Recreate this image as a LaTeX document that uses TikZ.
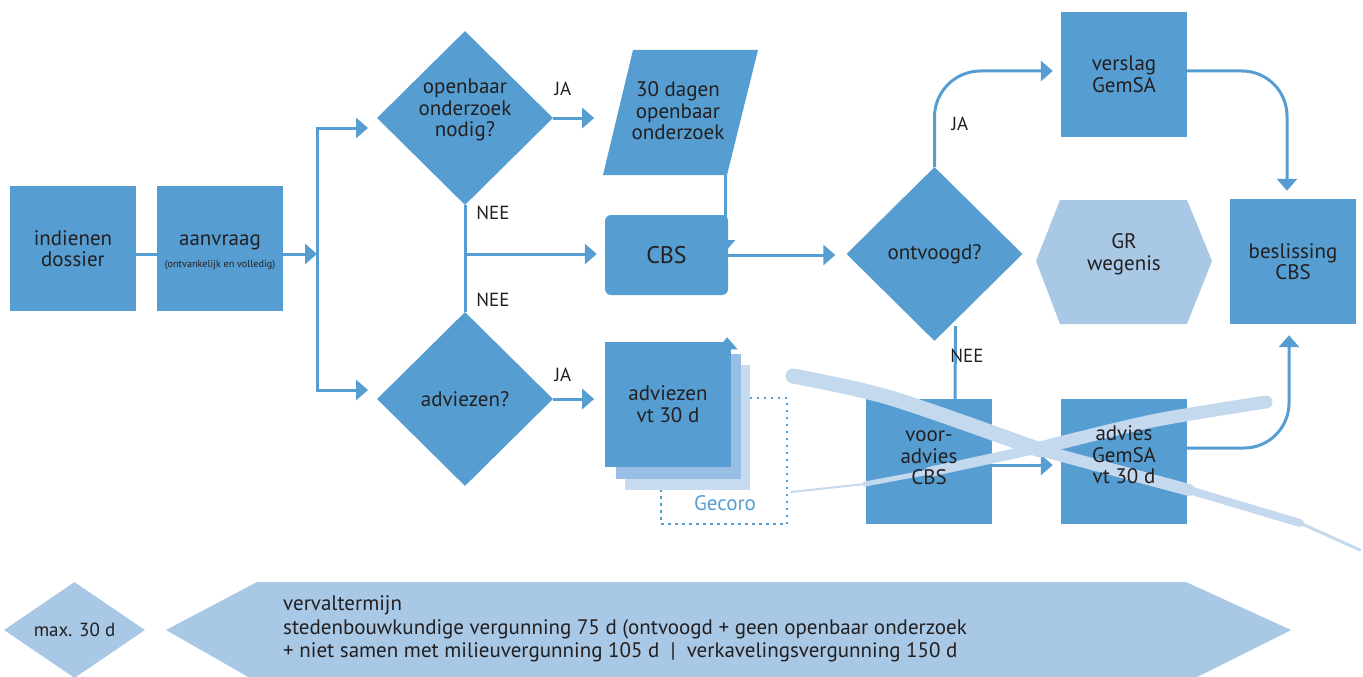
\documentclass[tikz,border=0pt]{standalone}
\usepackage{fontspec}
\setmainfont{PT Sans}
\usetikzlibrary{arrows.meta,shapes.geometric,calc}
\pgfdeclarelayer{bg}
\pgfsetlayers{bg,main}
\definecolor{mblue}{RGB}{86,158,210}
\definecolor{lblue}{RGB}{168,200,230}
\definecolor{sblue}{RGB}{152,190,227}
\definecolor{pblue}{RGB}{198,218,240}
\definecolor{xblue}{RGB}{197,217,238}
\definecolor{txt}{RGB}{35,31,32}
\newcommand\fsm{\fontsize{21}{21.5}\selectfont}
\newcommand\fsl{\fontsize{19}{20}\selectfont}
\newcommand\fst{\fontsize{10.2}{12}\selectfont}
\newcommand\fsc{\fontsize{24}{26}\selectfont}
\newcommand\fsb{\fontsize{21}{23.5}\selectfont}
\begin{document}
\begin{tikzpicture}[x=1pt,y=-1pt,
  box/.style={fill=mblue, minimum width=126pt, minimum height=125pt, inner sep=0pt, align=center, text=txt, font=\fsm},
  dia/.style={diamond, fill=mblue, minimum width=176pt, minimum height=174pt, inner sep=0pt, align=center, text=txt, font=\fsm},
  conn/.style={draw=mblue, line width=3pt, -{Triangle[length=12pt,width=20pt]}},
  plain/.style={draw=mblue, line width=3pt},
  lab/.style={text=txt, font=\fsl, inner sep=0pt, align=center},
  txtn/.style={text=txt, font=\fsm, inner sep=0pt, align=center},
  brush/.style={draw=xblue, line cap=round, line join=round}]
\useasboundingbox (0,0) rectangle (1363,677);

% ---------- left part
\node[box] (ind) at (73,248.5) {indienen\\dossier};
\node[box] (aan) at (220,248.5) {};
\node[txtn] (aant) at (220,242) {aanvraag};
\node[txtn, font=\fst] (aans) at (220,265) {(ontvankelijk en volledig)};

\coordinate (sp) at (317,254);
\coordinate (sp1) at (317,128);
\coordinate (sp2) at (317,390);

\node[dia] (d1) at (465,118) {};
\node[txtn] (d1t) at (465,110) {openbaar\\onderzoek\\nodig?};
\node[dia] (d2) at (465,399) {adviezen?};

% parallelogram
\fill[mblue] (633,50) -- (758,50) -- (727,175) -- (603,175) -- cycle;
\node[txtn] (oo) at (678,111) {30 dagen\\openbaar\\onderzoek};
\coordinate (oob) at (725,175);
\coordinate (oobe) at (725,252);

\node[fill=mblue, rounded corners=6pt, minimum width=123pt, minimum height=80pt, inner sep=0pt, text=txt, font=\fsc] (cbs) at (666.5,255) {CBS};

% adviezen stack
\draw[mblue, line width=2.5pt, dash pattern={on 2.5pt off 4.5pt}] (661,398) rectangle (787,524);
\node[text=mblue, font=\fsm, inner sep=0pt] (gec) at (725,503) {Gecoro};
\fill[pblue] (625,365) rectangle (750,490);
\fill[sblue] (616,354) rectangle (741,479);
\node[box] (adv) at (668,404) {adviezen\\vt 30 d};

% right part
\node[dia] (d3) at (934.5,254) {ontvoogd?};
\node[box] (vg) at (1124,74.5) {verslag\\GemSA};
\node[box] (bes) at (1293,261.5) {beslissing\\CBS};
\fill[lblue] (1060,200) -- (1187,200) -- (1212,261) -- (1187,324) -- (1060,324) -- (1036,261) -- cycle;
\node[txtn] (gr) at (1124,254) {GR\\wegenis};
\node[box] (va) at (928.5,461.5) {};
\node[box] (ag) at (1124,461.5) {};

% ---------- connectors
\draw[plain] ([yshift=-5.5pt]ind.east) -- ([yshift=-5.5pt]aan.west);
\draw[conn] ([yshift=-5.5pt]aan.east) -- (sp);
\draw[conn] (sp) -- (sp1) -- +(51,0);
\draw[conn] (sp) -- (sp2) -- +(51,0);
\draw[conn] (d1.east) -- +(41,0);
\node[lab] (ja1) at (563,89) {JA};
\draw[plain] (d1.south) -- (d2.north);
\coordinate (jn) at (465,254);
\draw[conn, shorten >=8pt] (jn) -- (cbs.west |- jn);
\node[lab] (nee1) at (493,213) {NEE};
\node[lab] (nee2) at (493,300) {NEE};
\draw[conn] (d2.east) -- +(41,0);
\node[lab] (ja2) at (563,375) {JA};
\begin{pgfonlayer}{bg}
\draw[conn] (oob) -- (oobe);
\draw[conn] ([xshift=-4pt,yshift=-20pt]adv.north east) -- ([xshift=-4pt,yshift=4pt]adv.north east);
\end{pgfonlayer}
\draw[conn, shorten >=11pt] (cbs.east) -- (cbs.east -| d3.west);

\draw[conn, rounded corners=46pt, shorten >=8pt] (d3.north) |- ([yshift=3.5pt]vg.west);
\node[lab] (ja3) at (960,124) {JA};
\draw[plain] ([xshift=21pt,yshift=15pt]d3.south) -- ([xshift=26.5pt]va.north);
\node[lab] (nee3) at (967,356) {NEE};
\draw[conn, rounded corners=45pt, shorten >=8pt] ([yshift=3.5pt]vg.east) -| ([xshift=-6pt]bes.north);
\draw[conn, shorten >=8pt] ([yshift=-3.5pt]va.east) -- ([yshift=-3.5pt]ag.west);
\draw[conn, rounded corners=45pt, shorten >=11pt] ([yshift=13.5pt]ag.east) -| ([xshift=-4pt]bes.south);

% ---------- brush strokes (cross)
\draw[brush, line width=15pt] plot[smooth] coordinates {(793,376) (891,398) (1040,450)};
\draw[brush, line width=12pt] plot[smooth] coordinates {(1040,450) (1189,490)};
\draw[brush, line width=8pt] plot[smooth] coordinates {(1189,490) (1300,523)};
\draw[brush, line width=3pt] plot[smooth] coordinates {(1300,523) (1360,550)};
\draw[brush, line width=13pt] plot[smooth] coordinates {(1266,402) (1152,421) (1040,448)};
\draw[brush, line width=10pt] plot[smooth] coordinates {(1040,448) (929,472)};
\draw[brush, line width=5pt] plot[smooth] coordinates {(929,472) (865,484)};
\draw[brush, line width=2pt] plot[smooth] coordinates {(865,484) (791,492)};

\node[txtn] (vat) at (929,458) {voor-\\advies\\CBS};
\node[txtn] (agt) at (1124,455) {advies\\GemSA\\vt 30 d};

% ---------- bottom
\node[diamond, fill=lblue, minimum width=141pt, minimum height=96pt, inner sep=0pt, text=txt, font=\fsl] (mx) at (74.5,630) {max. 30 d};
\fill[lblue] (166,630) -- (257,582) -- (1186,582) -- (1291,630) -- (1195,678) -- (250,678) -- cycle;
\node[anchor=west, text=txt, font=\fsb, align=left, inner sep=0pt] (vt) at (283,629)
  {vervaltermijn\\stedenbouwkundige vergunning 75 d (ontvoogd + geen openbaar onderzoek\\+ niet samen met milieuvergunning 105 d~~|~~verkavelingsvergunning 150 d};
\end{tikzpicture}
\end{document}
